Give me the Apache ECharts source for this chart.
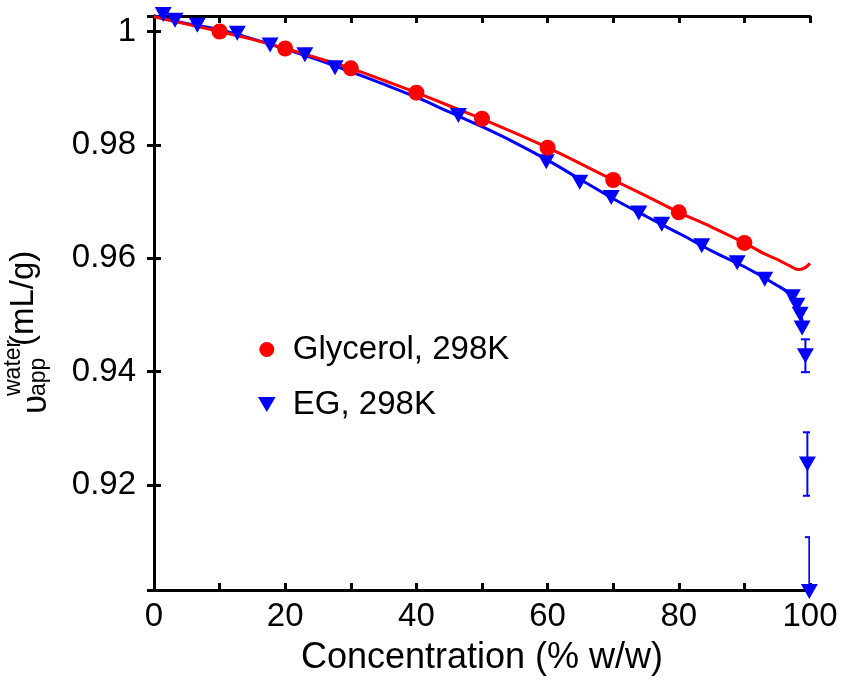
<!DOCTYPE html>
<html>
<head>
<meta charset="utf-8">
<script src="https://cdn.jsdelivr.net/npm/echarts@6/dist/echarts.min.js"></script>
<style>
  html, body { margin: 0; padding: 0; background: #fff; }
  #chart { width: 842px; height: 683px; }
</style>
</head>
<body>
<div id="chart"></div>
<script>
// Measured points, glycerol/water at 298 K
const glycerolX = [10, 20, 30, 40, 50, 60, 70, 80, 90];
const glycerolY = [1.0000, 0.9970, 0.9935, 0.9892, 0.9846, 0.9795, 0.9738, 0.9681, 0.9627];

// Fitted curve, glycerol
const glycerolFitX = [0, 5, 10, 15, 20, 25, 30, 35, 40, 45, 50, 55, 60, 65, 70, 75, 80, 85, 90, 93, 95, 97, 98.2, 99.2, 100];
const glycerolFitY = [1.0026, 1.0013, 1.0000, 0.9986, 0.9970, 0.9953, 0.9935, 0.9914, 0.9892, 0.9869, 0.9846, 0.9821,
                      0.9795, 0.9767, 0.9738, 0.9710, 0.9681, 0.9655, 0.9627, 0.9608, 0.9598, 0.9586, 0.9580, 0.9583, 0.9591];

// Measured points, ethylene glycol/water at 298 K (with uncertainty near 100 %)
const egX = [1.4, 3.2, 6.6, 12.7, 17.7, 23.0, 27.6, 46.4, 59.8, 64.9, 69.7, 73.9, 77.4, 83.5, 88.9, 93.1,
             97.3, 98.0, 98.5, 98.8, 99.3, 99.6, 99.9];
const egY = [1.0030, 1.0020, 1.0011, 0.9997, 0.9976, 0.9959, 0.9936, 0.9852, 0.9770, 0.9734, 0.9707, 0.9680,
             0.9660, 0.9622, 0.9592, 0.9563, 0.9532, 0.9517, 0.9501, 0.9477, 0.9428, 0.9237, 0.9012];
const egErr = [0, 0, 0, 0, 0, 0, 0, 0, 0, 0, 0, 0, 0, 0, 0, 0, 0, 0, 0, 0, 0.0029, 0.0056, 0.0096];

// Fitted curve, ethylene glycol
const egFitX = [0, 5, 10, 15, 20, 25, 30, 35, 40, 45, 50, 55, 60, 65, 70, 75, 80, 85, 90, 95, 97, 98.3, 99.1];
const egFitY = [1.0028, 1.0014, 1.0003, 0.9987, 0.9969, 0.9950, 0.9929, 0.9907, 0.9884, 0.9858, 0.9832, 0.9804,
                0.9773, 0.9739, 0.9705, 0.9674, 0.9644, 0.9613, 0.9585, 0.9552, 0.9536, 0.9508, 0.9478];

// Axis extents and tick labels
const xMin = 0, xMax = 100;
const yMin = 0.90148, yMax = 1.00273;
const xLabelStep = 20;

const zip = (xs, ys) => xs.map((x, i) => [x, ys[i]]);

const RED = '#ff0000';
const BLUE = '#0000ff';
const FONT = '"Liberation Sans", Arial, Helvetica, sans-serif';
const TRI = 'path://M0,0 L20,0 L10,17 Z';

const chart = echarts.init(document.getElementById('chart'), null, { renderer: 'canvas' });

const axisLineStyle = { color: '#000', width: 3 };
const tickStyle = { show: true, inside: true, length: 7, lineStyle: { color: '#000', width: 3 } };

const option = {
  animation: false,
  backgroundColor: '#fff',
  grid: { left: 154, right: 32, top: 16, bottom: 93, containLabel: false },
  xAxis: [
    {
      type: 'value', min: xMin, max: xMax, interval: 10, position: 'bottom',
      name: 'Concentration (% w/w)', nameLocation: 'middle', nameGap: 50,
      nameTextStyle: { color: '#000', fontSize: 36, fontFamily: FONT },
      axisLine: { show: true, lineStyle: axisLineStyle },
      axisTick: tickStyle,
      axisLabel: {
        color: '#000', fontSize: 33, fontFamily: FONT, margin: 10,
        formatter: v => (Math.round(v) % xLabelStep === 0 ? String(Math.round(v)) : '')
      },
      splitLine: { show: false }
    },
    {
      type: 'value', min: xMin, max: xMax, interval: 10, position: 'top',
      axisLine: { show: true, lineStyle: axisLineStyle },
      axisTick: tickStyle, axisLabel: { show: false }, splitLine: { show: false }
    }
  ],
  yAxis: [
    {
      type: 'value', min: yMin, max: yMax, splitNumber: 5, position: 'left',
      axisLine: { show: true, lineStyle: axisLineStyle },
      axisTick: tickStyle,
      axisLabel: {
        color: '#000', fontSize: 33, fontFamily: FONT, margin: 18,
        showMinLabel: false, showMaxLabel: false,
        formatter: v => String(Number(v.toFixed(2)))
      },
      splitLine: { show: false }
    },
    {
      type: 'value', min: yMin, max: yMax, splitNumber: 5, position: 'right',
      axisLine: { show: true, lineStyle: axisLineStyle },
      axisTick: tickStyle, axisLabel: { show: false }, splitLine: { show: false }
    }
  ],
  legend: {
    orient: 'vertical', left: 253, top: 328,
    itemWidth: 42, itemHeight: 15, itemGap: 22,
    textStyle: { color: '#000', fontSize: 33, fontFamily: FONT, padding: [0, 0, 0, 0] },
    data: [
      { name: 'Glycerol, 298K', icon: 'circle' },
      { name: 'EG, 298K', icon: TRI }
    ]
  },
  graphic: [
    // y-axis title: apparent specific volume of water, drawn rotated
    { type: 'text', x: 36, y: 414, rotation: Math.PI / 2,
      style: { text: 'υ', font: '35px ' + FONT, fill: '#000', textAlign: 'left', textVerticalAlign: 'middle' } },
    { type: 'text', x: 14, y: 396, rotation: Math.PI / 2,
      style: { text: 'water', font: '23px ' + FONT, fill: '#000', textAlign: 'left', textVerticalAlign: 'middle' } },
    { type: 'text', x: 39, y: 396, rotation: Math.PI / 2,
      style: { text: 'app', font: '23px ' + FONT, fill: '#000', textAlign: 'left', textVerticalAlign: 'middle' } },
    { type: 'text', x: 24, y: 346, rotation: Math.PI / 2,
      style: { text: '(mL/g)', font: '33px ' + FONT, fill: '#000', textAlign: 'left', textVerticalAlign: 'middle' } }
  ],
  series: [
    {
      name: 'EG fit', type: 'line', data: zip(egFitX, egFitY), smooth: 0.3,
      showSymbol: false, symbol: 'none', lineStyle: { color: BLUE, width: 3 }, z: 2
    },
    {
      name: 'Glycerol fit', type: 'line', data: zip(glycerolFitX, glycerolFitY), smooth: 0.3,
      showSymbol: false, symbol: 'none', lineStyle: { color: RED, width: 3 }, z: 2
    },
    {
      name: 'EG error', type: 'custom', clip: true, z: 3,
      data: egX.map((x, i) => [x, egY[i], egErr[i]]).filter(d => d[2] > 0),
      renderItem: (params, api) => {
        const x = api.value(0), y = api.value(1), e = api.value(2);
        const top = api.coord([x, y + e]);
        const bot = api.coord([x, y - e]);
        const cap = 4.5;
        const style = { stroke: BLUE, lineWidth: 2 };
        return {
          type: 'group',
          children: [
            { type: 'line', shape: { x1: top[0], y1: top[1], x2: bot[0], y2: bot[1] }, style },
            { type: 'line', shape: { x1: top[0] - cap, y1: top[1], x2: top[0] + cap, y2: top[1] }, style },
            { type: 'line', shape: { x1: bot[0] - cap, y1: bot[1], x2: bot[0] + cap, y2: bot[1] }, style }
          ]
        };
      }
    },
    {
      name: 'EG, 298K', type: 'scatter', data: zip(egX, egY), clip: false,
      symbol: TRI, symbolSize: [17, 15], itemStyle: { color: BLUE, opacity: 1 }, z: 4
    },
    {
      name: 'Glycerol, 298K', type: 'scatter', data: zip(glycerolX, glycerolY), clip: false,
      symbol: 'circle', symbolSize: 16, itemStyle: { color: RED, opacity: 1 }, z: 5
    }
  ]
};

chart.setOption(option);
</script>
</body>
</html>
